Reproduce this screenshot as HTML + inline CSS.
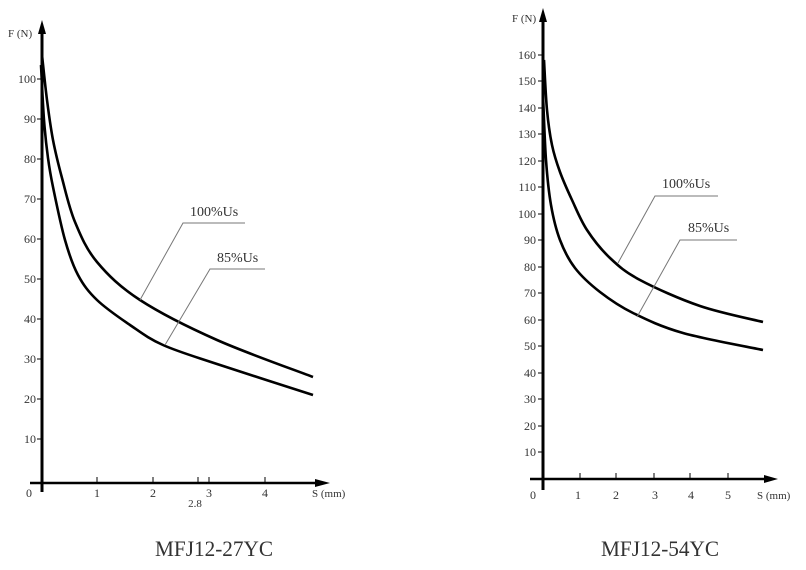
<!DOCTYPE html>
<html><head><meta charset="utf-8"><style>
html,body{margin:0;padding:0;background:#fff;width:806px;height:570px;overflow:hidden}
svg text{font-family:"Liberation Serif",serif;fill:#333}
</style></head><body>
<svg width="806" height="570" viewBox="0 0 806 570" xmlns="http://www.w3.org/2000/svg">
<!-- LEFT CHART -->
<g stroke="#000" fill="none">
<line x1="42" y1="30" x2="42" y2="492" stroke-width="3"/>
<polygon points="42,20 38,34 46,34" fill="#000" stroke="none"/>
<line x1="30" y1="483" x2="318" y2="483" stroke-width="2.5"/>
<polygon points="330,483 315,479 315,487" fill="#000" stroke="none"/>
<g stroke-width="1">
<line x1="37" y1="79" x2="42" y2="79"/><line x1="37" y1="119" x2="42" y2="119"/><line x1="37" y1="159" x2="42" y2="159"/>
<line x1="37" y1="199" x2="42" y2="199"/><line x1="37" y1="239" x2="42" y2="239"/><line x1="37" y1="279" x2="42" y2="279"/>
<line x1="37" y1="319" x2="42" y2="319"/><line x1="37" y1="359" x2="42" y2="359"/><line x1="37" y1="399" x2="42" y2="399"/>
<line x1="37" y1="439" x2="42" y2="439"/>
<line x1="97" y1="477" x2="97" y2="483"/><line x1="153" y1="477" x2="153" y2="483"/><line x1="198" y1="477" x2="198" y2="483"/>
<line x1="209" y1="477" x2="209" y2="483"/><line x1="265" y1="477" x2="265" y2="483"/>
</g>
<path id="c1" stroke-width="2.6" stroke-linejoin="round"/>
<path id="c2" stroke-width="2.6" stroke-linejoin="round"/>
<g stroke="#777" stroke-width="1">
<polyline points="140,300 183,223 245,223"/>
<polyline points="165,345 210,269 265,269"/>
</g>
</g>
<g font-size="12" text-anchor="end">
<text x="36" y="83">100</text><text x="36" y="123">90</text><text x="36" y="163">80</text><text x="36" y="203">70</text>
<text x="36" y="243">60</text><text x="36" y="283">50</text><text x="36" y="323">40</text><text x="36" y="363">30</text>
<text x="36" y="403">20</text><text x="36" y="443">10</text>
</g>
<g font-size="12" text-anchor="middle">
<text x="29" y="497">0</text><text x="97" y="497">1</text><text x="153" y="497">2</text><text x="209" y="497">3</text><text x="265" y="497">4</text>
<text x="195" y="507" font-size="11">2.8</text>
</g>
<text x="8" y="37" font-size="11">F (N)</text>
<text x="312" y="497" font-size="11">S (mm)</text>
<text x="190" y="216" font-size="14">100%Us</text>
<text x="217" y="262" font-size="14">85%Us</text>
<text x="214" y="556" font-size="22" text-anchor="middle" fill="#111" textLength="118" lengthAdjust="spacingAndGlyphs">MFJ12-27YC</text>

<!-- RIGHT CHART -->
<g stroke="#000" fill="none">
<line x1="543" y1="18" x2="543" y2="490" stroke-width="3"/>
<polygon points="543,8 539,22 547,22" fill="#000" stroke="none"/>
<line x1="530" y1="479" x2="768" y2="479" stroke-width="2.5"/>
<polygon points="778,479 764,475 764,483" fill="#000" stroke="none"/>
<g stroke-width="1">
<line x1="538" y1="55" x2="543" y2="55"/><line x1="538" y1="81" x2="543" y2="81"/><line x1="538" y1="108" x2="543" y2="108"/>
<line x1="538" y1="134" x2="543" y2="134"/><line x1="538" y1="161" x2="543" y2="161"/><line x1="538" y1="187" x2="543" y2="187"/>
<line x1="538" y1="214" x2="543" y2="214"/><line x1="538" y1="240" x2="543" y2="240"/><line x1="538" y1="267" x2="543" y2="267"/>
<line x1="538" y1="293" x2="543" y2="293"/><line x1="538" y1="320" x2="543" y2="320"/><line x1="538" y1="346" x2="543" y2="346"/>
<line x1="538" y1="373" x2="543" y2="373"/><line x1="538" y1="399" x2="543" y2="399"/><line x1="538" y1="426" x2="543" y2="426"/>
<line x1="538" y1="452" x2="543" y2="452"/>
<line x1="580" y1="473" x2="580" y2="479"/><line x1="616" y1="473" x2="616" y2="479"/><line x1="654" y1="473" x2="654" y2="479"/>
<line x1="690" y1="473" x2="690" y2="479"/><line x1="728" y1="473" x2="728" y2="479"/>
</g>
<path id="c3" stroke-width="2.6" stroke-linejoin="round"/>
<path id="c4" stroke-width="2.6" stroke-linejoin="round"/>
<g stroke="#777" stroke-width="1">
<polyline points="618,263 655,196 718,196"/>
<polyline points="637,317 680,240 737,240"/>
</g>
</g>
<g font-size="12" text-anchor="end">
<text x="536" y="59">160</text><text x="536" y="85">150</text><text x="536" y="112">140</text><text x="536" y="138">130</text>
<text x="536" y="165">120</text><text x="536" y="191">110</text><text x="536" y="218">100</text><text x="536" y="244">90</text>
<text x="536" y="271">80</text><text x="536" y="297">70</text><text x="536" y="324">60</text><text x="536" y="350">50</text>
<text x="536" y="377">40</text><text x="536" y="403">30</text><text x="536" y="430">20</text><text x="536" y="456">10</text>
</g>
<g font-size="12" text-anchor="middle">
<text x="533" y="499">0</text><text x="578" y="499">1</text><text x="616" y="499">2</text><text x="655" y="499">3</text><text x="691" y="499">4</text><text x="728" y="499">5</text>
</g>
<text x="512" y="22" font-size="11">F (N)</text>
<text x="757" y="499" font-size="11">S (mm)</text>
<text x="662" y="188" font-size="14">100%Us</text>
<text x="688" y="232" font-size="14">85%Us</text>
<text x="660" y="556" font-size="22" text-anchor="middle" fill="#111" textLength="118" lengthAdjust="spacingAndGlyphs">MFJ12-54YC</text>
</svg>
<script>
function cr(p){var d="M"+p[0][0]+","+p[0][1];for(var i=0;i<p.length-1;i++){var a=p[i-1]||p[i],b=p[i],c=p[i+1],e=p[i+2]||c;
d+=" C"+(b[0]+(c[0]-a[0])/6)+","+(b[1]+(c[1]-a[1])/6)+" "+(c[0]-(e[0]-b[0])/6)+","+(c[1]-(e[1]-b[1])/6)+" "+c[0]+","+c[1];}return d;}
var S={
c1:[[42,55],[47,100],[53,140],[62,178],[75,222],[97,262],[140,300],[217,340],[313,377]],
c2:[[41,65],[44,120],[48,158],[53,187],[65,240],[78,275],[97,300],[130,325],[163,345],[217,364],[313,395]],
c3:[[544,60],[547,110],[552,145],[560,172],[572,200],[587,230],[610,258],[640,280],[700,306],[763,322]],
c4:[[543,95],[546,160],[551,205],[560,240],[575,268],[600,292],[633,313],[683,333],[763,350]]};
for(var k in S)document.getElementById(k).setAttribute("d",cr(S[k]));
</script>
</body></html>
